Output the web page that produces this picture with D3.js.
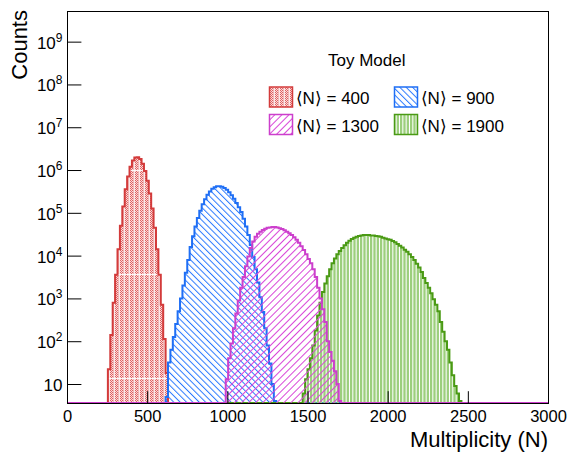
<!DOCTYPE html>
<html><head><meta charset="utf-8">
<script src="https://cdn.jsdelivr.net/npm/d3@7"></script>
<style>
body{margin:0;background:#fff;}
svg{display:block;font-family:"Liberation Sans",Arial,Helvetica,sans-serif;}
</style>
</head><body>
<svg id="chart" width="567" height="453"></svg>
<script>
// ---------------- data ----------------
const binWidth = 15;
const xDomain = [0, 3000];
const yDomain = [3.6, 5.2e9];

const redStart = 255;
const redCounts = [22,140,790,3550,14100,50000,141000,355000,708000,1200000,1660000,1950000,2000000,1820000,1410000,955000,562000,282000,126000,44700,14100,3550,710,112,18];

const blueStart = 615;
const blueCounts = [5,32,63,126,251,501,1000,1995,3981,7943,15849,28184,47863,75858,112202,158489,208930,263027,316228,363078,398107,416869,416869,407380,380189,346737,301995,257040,213796,169824,134896,104713,72444,47863,30200,17783,9333,4786,2344,1072,479,200,79,30,10,4];

const magentaStart = 990;
const magentaCounts = [13,40,89,200,447,891,1778,3162,5623,9550,15136,21380,27542,32359,36308,39811,42658,44668,45709,46774,46774,45709,43652,41687,38905,36308,33113,30200,26915,23442,19953,16596,13490,10715,8318,6607,4786,3162,1778,1000,562,282,100,56,35,20,10,4];

const greenStart = 1470;
const greenCounts = [6,13,22,40,79,178,398,794,1413,2239,3311,4786,6607,8511,10715,12882,15136,17378,19953,22387,24547,26303,27542,28840,29512,30200,30200,30200,29512,29512,28840,28184,27542,26303,25119,23988,23442,21878,20417,18621,16982,15488,13804,12303,10715,9333,7943,6457,5248,4169,3020,2291,1778,1318,955,708,501,282,166,100,63,32,16,9,6,4];

const seriesLabels = ["\u27E8N\u27E9 = 400", "\u27E8N\u27E9 = 900", "\u27E8N\u27E9 = 1300", "\u27E8N\u27E9 = 1900"];
const xTickValues = [0, 500, 1000, 1500, 2000, 2500, 3000];
const yTickExponents = [1, 2, 3, 4, 5, 6, 7, 8, 9];
const xTitle = "Multiplicity (N)";
const yTitle = "Counts";
const legendTitle = "Toy Model";

// ---------------- layout ----------------
const svg = d3.select("#chart");
const L = 67, R = 548, T = 11, B = 403;
const x = d3.scaleLinear().domain(xDomain).range([L, R]);
const y = d3.scaleLog().domain(yDomain).range([B, T]);

const defs = svg.append("defs");
defs.append("clipPath").attr("id","frameClip").append("rect")
  .attr("x",L).attr("y",T).attr("width",R-L).attr("height",B-T);

// red checker + stripes
const chk = defs.append("pattern").attr("id","redChk").attr("patternUnits","userSpaceOnUse")
  .attr("width",2).attr("height",2);
chk.append("rect").attr("width",2).attr("height",2).attr("fill","#f9dcdc");
chk.append("rect").attr("x",0).attr("y",0).attr("width",1).attr("height",1).attr("fill","#e06262");
chk.append("rect").attr("x",1).attr("y",1).attr("width",1).attr("height",1).attr("fill","#e06262");
const rp = defs.append("pattern").attr("id","redFill").attr("patternUnits","userSpaceOnUse")
  .attr("width",5).attr("height",104);
rp.append("rect").attr("width",5).attr("height",104).attr("fill","url(#redChk)");
rp.append("rect").attr("x",3).attr("width",2).attr("height",104).attr("fill","#f0b8b8");
rp.append("rect").attr("x",4).attr("width",1).attr("height",104).attr("fill","#fbe8e8");
rp.append("rect").attr("y",66).attr("width",5).attr("height",1).attr("fill","#ffffff").attr("opacity",0.9);

// blue "\" hatch
const bp = defs.append("pattern").attr("id","blueFill").attr("patternUnits","userSpaceOnUse")
  .attr("width",4.5).attr("height",10).attr("patternTransform","rotate(-45)");
bp.append("rect").attr("x",0).attr("y",0).attr("width",1).attr("height",10).attr("fill","#2a78ff");

// magenta "/" hatch
const mp = defs.append("pattern").attr("id","magentaFill").attr("patternUnits","userSpaceOnUse")
  .attr("width",5).attr("height",10).attr("patternTransform","rotate(45)");
mp.append("rect").attr("x",0).attr("y",0).attr("width",1).attr("height",10).attr("fill","#d846d8");

// green vertical stripes
const gp = defs.append("pattern").attr("id","greenFill").attr("patternUnits","userSpaceOnUse")
  .attr("width",10).attr("height",10);
[0, 10/3, 20/3].forEach(o => gp.append("rect").attr("x",o).attr("width",2.3).attr("height",10).attr("fill","#9ccf7c"));

const series = [
  {start: redStart, counts: redCounts, fill: "url(#redFill)", stroke: "#d33b3b"},
  {start: blueStart, counts: blueCounts, fill: "url(#blueFill)", stroke: "#1f6ff5"},
  {start: greenStart, counts: greenCounts, fill: "url(#greenFill)", stroke: "#4a9a14"},
  {start: magentaStart, counts: magentaCounts, fill: "url(#magentaFill)", stroke: "#cc3fcc"}
];

function yv(v){ return v > 0 ? Math.min(B, y(Math.max(v, yDomain[0]))) : B; }
function stepPath(s){
  let p = `M${x(xDomain[0])},${B}`;
  p += `L${x(s.start)},${B}`;
  s.counts.forEach((c,i)=>{
    const lo = s.start + i*binWidth, hi = lo + binWidth;
    p += `L${x(lo)},${yv(c)}L${x(hi)},${yv(c)}`;
  });
  const end = s.start + s.counts.length*binWidth;
  p += `L${x(end)},${B}L${x(xDomain[1])},${B}`;
  return p;
}

const plot = svg.append("g").attr("clip-path","url(#frameClip)");
[0,1,2,3].forEach(i=>{
  const s = series[i];
  plot.append("path").attr("d", stepPath(s)+"Z").attr("fill", s.fill).attr("stroke","none");
  plot.append("path").attr("d", stepPath(s)).attr("fill","none").attr("stroke", s.stroke).attr("stroke-width",2).attr("stroke-linejoin","miter");
});

// ---------------- axes ----------------
const xMinor = d3.range(xDomain[0], xDomain[1]+1, 100).filter(v => v % 500 !== 0);
const axX = svg.append("g").attr("transform",`translate(0,${B})`);
axX.call(d3.axisBottom(x).tickValues(xMinor).tickSize(-5.9).tickFormat(""));
axX.call(d3.axisBottom(x).tickValues(xTickValues).tickSize(-11.8).tickPadding(7).tickFormat(d3.format("d")));
axX.selectAll(".domain").remove();
axX.selectAll("line").attr("stroke","#000");
axX.selectAll("text").attr("font-size",16.5).attr("fill","#000").attr("font-family","'Liberation Sans',Arial,sans-serif");

const yMajor = yTickExponents.map(e => Math.pow(10,e));
const yMinor = [];
for (let k=0;k<=9;k++) for (let m=2;m<=9;m++){ const v=m*Math.pow(10,k); if(v>=yDomain[0]&&v<=yDomain[1]) yMinor.push(v); }
const axY = svg.append("g").attr("transform",`translate(${L},0)`);
axY.call(d3.axisLeft(y).tickValues(yMinor).tickSize(-7.2).tickFormat(""));
axY.call(d3.axisLeft(y).tickValues(yMajor).tickSize(-14.4).tickFormat(""));
axY.selectAll(".domain").remove();
axY.selectAll("line").attr("stroke","#000");

const yl = svg.append("g").attr("font-size",17).attr("fill","#000");
yTickExponents.forEach(e=>{
  const t = yl.append("text").attr("x",62.5).attr("y", y(Math.pow(10,e))+7).attr("text-anchor","end");
  t.append("tspan").text("10");
  if (e !== 1) t.append("tspan").attr("font-size",12).attr("dy",-7).text(String(e));
});

// frame
svg.append("rect").attr("x",L).attr("y",T).attr("width",R-L).attr("height",B-T)
  .attr("fill","none").attr("stroke","#000").attr("stroke-width",1).attr("shape-rendering","crispEdges");

// titles
svg.append("text").attr("x",R).attr("y",447).attr("text-anchor","end").attr("font-size",22).text(xTitle);
svg.append("text").attr("transform","translate(27,10) rotate(-90)").attr("text-anchor","end").attr("font-size",22).text(yTitle);

// ---------------- legend ----------------
const lg = svg.append("g");
lg.append("text").attr("x",328).attr("y",66).attr("font-size",17).text(legendTitle);
const legendPos = [[269.5,87],[394.5,87],[269.5,114.5],[394.5,114.5]];
const legendSeries = [0,1,3,2];
legendSeries.forEach((si,k)=>{
  const s = series[si];
  const [lx,ly] = legendPos[k];
  lg.append("rect").attr("x",lx).attr("y",ly).attr("width",23).attr("height",20)
    .attr("fill",s.fill).attr("stroke",s.stroke).attr("stroke-width",1.5);
  lg.append("text").attr("x",lx+26).attr("y",ly+17).attr("font-size",17).text(seriesLabels[k]);
});
</script>
</body></html>
